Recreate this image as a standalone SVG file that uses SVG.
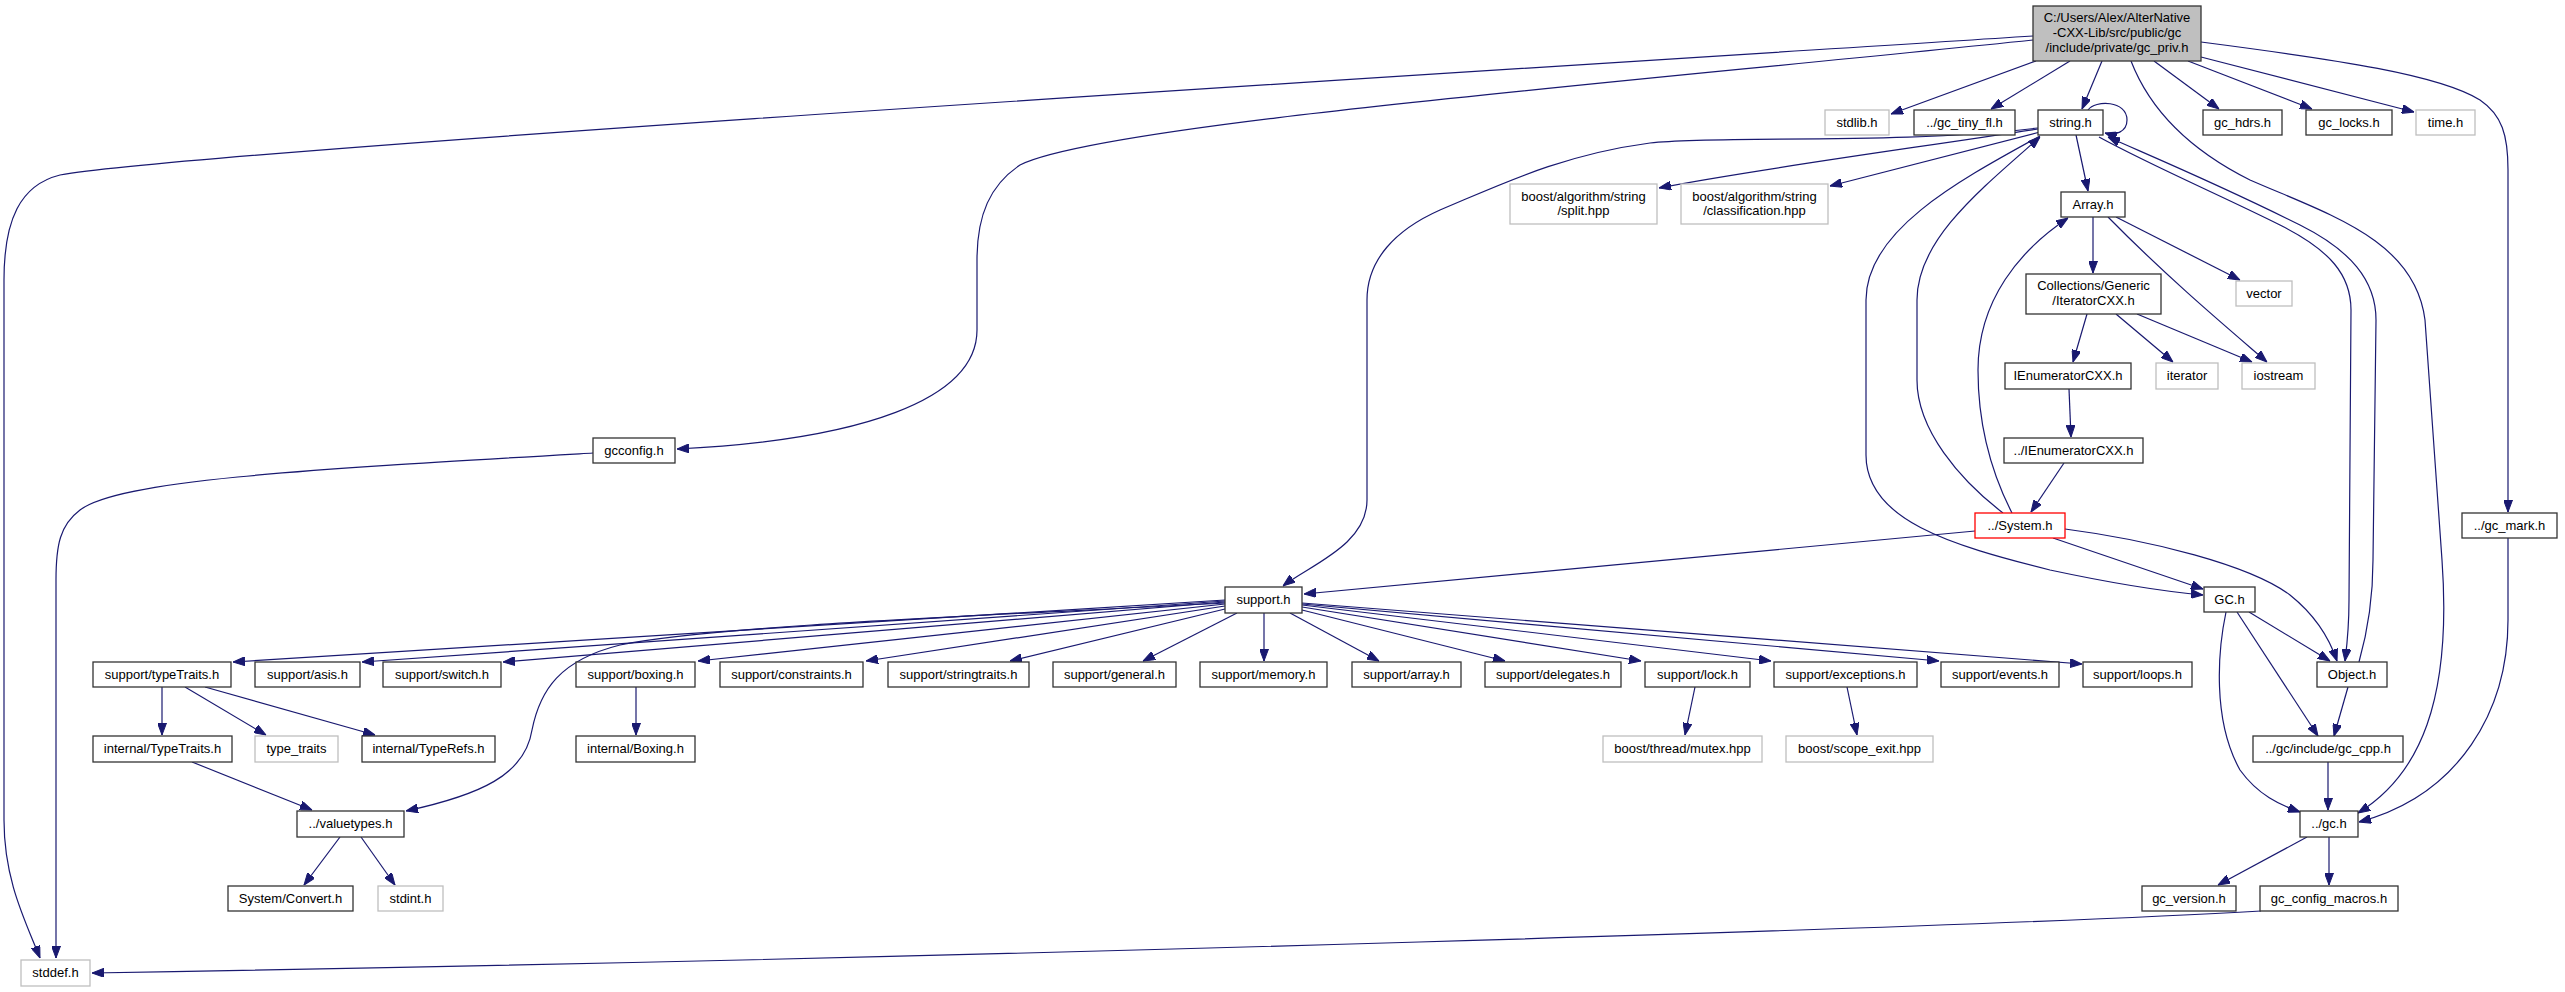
<svg xmlns="http://www.w3.org/2000/svg" width="2565" height="992" viewBox="0 0 2565 992">
<style>
.n rect{fill:#fff;stroke:#333;stroke-width:1.3}
.g rect{fill:#fff;stroke:#bfbfbf;stroke-width:1.3}
.r rect{fill:#fff;stroke:#f00;stroke-width:1.3}
.root rect{fill:#bfbfbf;stroke:#333;stroke-width:1.3}
text{font-family:"Liberation Sans",Arial,sans-serif;font-size:13px;text-anchor:middle;fill:#000}
#edges path{fill:none;stroke:#191970;stroke-width:1.2;marker-end:url(#a)}
</style>
<defs>
<marker id="a" markerWidth="12" markerHeight="9" refX="12" refY="4.5" orient="auto" markerUnits="userSpaceOnUse"><path d="M0,0 L12,4.5 L0,9 z" fill="#191970" stroke="#191970" stroke-width="1"/></marker>
</defs>
<rect width="2565" height="992" fill="#fff"/>
<g id="edges">
<path d="M2033,36 C1500,70 200,150 60,175 C20,185 4,220 4,280 L4,820 C4,880 25,920 40,958"/>
<path d="M2033,40 C1600,85 1100,125 1020,165 C990,185 977,215 977,260 L977,330 C977,400 860,440 677,449"/>
<path d="M2036,61 L1891,114"/>
<path d="M2070,61 L1991,109"/>
<path d="M2102,61 L2082,109"/>
<path d="M2154,61 L2219,109"/>
<path d="M2188,61 L2312,109"/>
<path d="M2201,57 L2414,112"/>
<path d="M2201,42 C2340,60 2440,75 2480,100 C2502,115 2508,135 2508,170 L2508,512"/>
<path d="M2131,61 C2150,110 2190,150 2250,180 C2330,215 2415,240 2425,320 L2442,560 C2452,700 2420,775 2358,813"/>
<path d="M2508,538 L2508,620 C2508,710 2460,795 2359,822"/>
<path d="M2088,110 C2095,100 2127,100 2127,120 C2127,132 2115,136 2105,133"/>
<path d="M2038,128 C1900,145 1720,135 1650,143 C1560,155 1500,185 1440,210 C1395,230 1367,260 1367,300 L1367,500 C1367,545 1310,565 1283,586"/>
<path d="M2038,129 C1900,150 1750,170 1659,188"/>
<path d="M2040,132 L1830,186"/>
<path d="M2076,135 L2088,191"/>
<path d="M2040,136 C1960,180 1866,230 1866,300 L1866,455 C1866,520 1950,545 2050,570 C2120,585 2170,592 2203,595"/>
<path d="M2099,137 C2150,165 2220,195 2280,225 C2330,250 2351,275 2351,310 L2349,600 C2349,630 2347,645 2345,661"/>
<path d="M2003,513 C1960,480 1917,430 1917,380 L1917,300 C1917,240 1980,190 2040,137"/>
<path d="M2359,662 C2368,630 2373,600 2373,560 L2376,320 C2376,280 2350,250 2300,225 C2220,185 2160,160 2108,137"/>
<path d="M2012,513 C1990,470 1978,420 1978,370 C1978,300 2020,250 2068,218"/>
<path d="M2093,217 L2093,273"/>
<path d="M2116,217 L2240,280"/>
<path d="M2108,217 C2170,280 2230,330 2267,362"/>
<path d="M2087,314 L2073,362"/>
<path d="M2116,314 L2173,362"/>
<path d="M2137,314 L2252,362"/>
<path d="M2069,389 L2071,437"/>
<path d="M2064,463 L2031,512"/>
<path d="M1975,531 L1304,594"/>
<path d="M2053,538 L2203,589"/>
<path d="M2065,529 C2150,540 2250,565 2290,595 C2315,615 2330,640 2337,661"/>
<path d="M2249,612 L2330,661"/>
<path d="M2237,612 L2318,736"/>
<path d="M2226,612 C2218,650 2212,720 2240,770 C2258,795 2280,805 2300,812"/>
<path d="M2348,687 L2334,736"/>
<path d="M2328,762 L2328,810"/>
<path d="M2307,837 L2218,885"/>
<path d="M2329,837 L2329,885"/>
<path d="M2261,911 C2000,926 1000,958 92,973"/>
<path d="M593,453 C300,470 120,480 80,510 C60,525 56,545 56,580 L56,958"/>
<path d="M1225,600 L233,662"/>
<path d="M1225,601 L362,662"/>
<path d="M1225,602 L503,662"/>
<path d="M1225,604 L698,661"/>
<path d="M1225,606 L866,661"/>
<path d="M1225,609 L1010,661"/>
<path d="M1237,613 L1143,661"/>
<path d="M1264,613 L1264,661"/>
<path d="M1290,613 L1379,661"/>
<path d="M1302,610 L1505,661"/>
<path d="M1302,607 L1641,661"/>
<path d="M1302,605 L1771,661"/>
<path d="M1302,604 L1939,661"/>
<path d="M1302,603 L2082,664"/>
<path d="M1225,603 C1000,615 720,625 620,645 C560,660 540,690 532,730 C525,775 480,795 406,811"/>
<path d="M162,687 L162,735"/>
<path d="M185,687 L266,735"/>
<path d="M205,687 L375,735"/>
<path d="M192,762 L312,810"/>
<path d="M636,687 L636,735"/>
<path d="M340,837 L304,885"/>
<path d="M361,837 L395,885"/>
<path d="M1695,687 L1685,735"/>
<path d="M1847,687 L1857,735"/>
</g>
<g id="gc_priv" class="root"><rect x="2033" y="6" width="168" height="55"/><text x="2117" y="22">C:/Users/Alex/AlterNative</text><text x="2117" y="37">-CXX-Lib/src/public/gc</text><text x="2117" y="52">/include/private/gc_priv.h</text></g>
<g id="stdlib" class="g"><rect x="1825" y="110" width="64" height="25"/><text x="1857" y="127">stdlib.h</text></g>
<g id="gc_tiny_fl" class="n"><rect x="1914" y="110" width="101" height="25"/><text x="1964.5" y="127">../gc_tiny_fl.h</text></g>
<g id="string" class="n"><rect x="2038" y="110" width="65" height="25"/><text x="2070.5" y="127">string.h</text></g>
<g id="gc_hdrs" class="n"><rect x="2203" y="110" width="79" height="25"/><text x="2242.5" y="127">gc_hdrs.h</text></g>
<g id="gc_locks" class="n"><rect x="2306" y="110" width="86" height="25"/><text x="2349" y="127">gc_locks.h</text></g>
<g id="time" class="g"><rect x="2416" y="110" width="59" height="25"/><text x="2445.5" y="127">time.h</text></g>
<g id="boost_split" class="g"><rect x="1510" y="184" width="147" height="40"/><text x="1583.5" y="201">boost/algorithm/string</text><text x="1583.5" y="215">/split.hpp</text></g>
<g id="boost_class" class="g"><rect x="1681" y="184" width="147" height="40"/><text x="1754.5" y="201">boost/algorithm/string</text><text x="1754.5" y="215">/classification.hpp</text></g>
<g id="array" class="n"><rect x="2061" y="192" width="64" height="25"/><text x="2093" y="209">Array.h</text></g>
<g id="collections" class="n"><rect x="2026" y="274" width="135" height="40"/><text x="2093.5" y="290">Collections/Generic</text><text x="2093.5" y="305">/IteratorCXX.h</text></g>
<g id="vector" class="g"><rect x="2236" y="281" width="56" height="25"/><text x="2264" y="298">vector</text></g>
<g id="ienum" class="n"><rect x="2005" y="363" width="126" height="26"/><text x="2068" y="380">IEnumeratorCXX.h</text></g>
<g id="iterator" class="g"><rect x="2156" y="363" width="62" height="26"/><text x="2187" y="380">iterator</text></g>
<g id="iostream" class="g"><rect x="2242" y="363" width="73" height="26"/><text x="2278.5" y="380">iostream</text></g>
<g id="gcconfig" class="n"><rect x="593" y="438" width="82" height="25"/><text x="634" y="455">gcconfig.h</text></g>
<g id="ienum2" class="n"><rect x="2004" y="438" width="139" height="25"/><text x="2073.5" y="455">../IEnumeratorCXX.h</text></g>
<g id="system" class="r"><rect x="1975" y="513" width="90" height="25"/><text x="2020" y="530">../System.h</text></g>
<g id="gc_mark" class="n"><rect x="2462" y="513" width="95" height="25"/><text x="2509.5" y="530">../gc_mark.h</text></g>
<g id="support" class="n"><rect x="1225" y="587" width="77" height="26"/><text x="1263.5" y="604">support.h</text></g>
<g id="GC" class="n"><rect x="2204" y="587" width="51" height="25"/><text x="2229.5" y="604">GC.h</text></g>
<g id="typeTraits" class="n"><rect x="93" y="662" width="138" height="25"/><text x="162" y="679">support/typeTraits.h</text></g>
<g id="asis" class="n"><rect x="255" y="662" width="105" height="25"/><text x="307.5" y="679">support/asis.h</text></g>
<g id="switch" class="n"><rect x="383" y="662" width="118" height="25"/><text x="442" y="679">support/switch.h</text></g>
<g id="boxing" class="n"><rect x="576" y="662" width="119" height="25"/><text x="635.5" y="679">support/boxing.h</text></g>
<g id="constraints" class="n"><rect x="720" y="662" width="143" height="25"/><text x="791.5" y="679">support/constraints.h</text></g>
<g id="stringtraits" class="n"><rect x="888" y="662" width="141" height="25"/><text x="958.5" y="679">support/stringtraits.h</text></g>
<g id="general" class="n"><rect x="1053" y="662" width="123" height="25"/><text x="1114.5" y="679">support/general.h</text></g>
<g id="memory" class="n"><rect x="1200" y="662" width="127" height="25"/><text x="1263.5" y="679">support/memory.h</text></g>
<g id="sarray" class="n"><rect x="1352" y="662" width="109" height="25"/><text x="1406.5" y="679">support/array.h</text></g>
<g id="delegates" class="n"><rect x="1485" y="662" width="136" height="25"/><text x="1553" y="679">support/delegates.h</text></g>
<g id="lock" class="n"><rect x="1645" y="662" width="105" height="25"/><text x="1697.5" y="679">support/lock.h</text></g>
<g id="exceptions" class="n"><rect x="1774" y="662" width="143" height="25"/><text x="1845.5" y="679">support/exceptions.h</text></g>
<g id="events" class="n"><rect x="1941" y="662" width="118" height="25"/><text x="2000" y="679">support/events.h</text></g>
<g id="loops" class="n"><rect x="2083" y="662" width="109" height="25"/><text x="2137.5" y="679">support/loops.h</text></g>
<g id="object" class="n"><rect x="2317" y="662" width="70" height="25"/><text x="2352" y="679">Object.h</text></g>
<g id="iTypeTraits" class="n"><rect x="93" y="736" width="139" height="26"/><text x="162.5" y="753">internal/TypeTraits.h</text></g>
<g id="type_traits" class="g"><rect x="255" y="736" width="83" height="26"/><text x="296.5" y="753">type_traits</text></g>
<g id="typeRefs" class="n"><rect x="362" y="736" width="133" height="26"/><text x="428.5" y="753">internal/TypeRefs.h</text></g>
<g id="iBoxing" class="n"><rect x="576" y="736" width="119" height="26"/><text x="635.5" y="753">internal/Boxing.h</text></g>
<g id="mutex" class="g"><rect x="1603" y="736" width="159" height="26"/><text x="1682.5" y="753">boost/thread/mutex.hpp</text></g>
<g id="scope_exit" class="g"><rect x="1786" y="736" width="147" height="26"/><text x="1859.5" y="753">boost/scope_exit.hpp</text></g>
<g id="gc_cpp" class="n"><rect x="2253" y="736" width="150" height="26"/><text x="2328" y="753">../gc/include/gc_cpp.h</text></g>
<g id="valuetypes" class="n"><rect x="297" y="811" width="107" height="26"/><text x="350.5" y="828">../valuetypes.h</text></g>
<g id="gc" class="n"><rect x="2300" y="811" width="58" height="26"/><text x="2329" y="828">../gc.h</text></g>
<g id="convert" class="n"><rect x="228" y="886" width="125" height="25"/><text x="290.5" y="903">System/Convert.h</text></g>
<g id="stdint" class="g"><rect x="378" y="886" width="65" height="25"/><text x="410.5" y="903">stdint.h</text></g>
<g id="gc_version" class="n"><rect x="2142" y="886" width="94" height="25"/><text x="2189" y="903">gc_version.h</text></g>
<g id="gc_config_macros" class="n"><rect x="2260" y="886" width="138" height="25"/><text x="2329" y="903">gc_config_macros.h</text></g>
<g id="stddef" class="g"><rect x="21" y="960" width="69" height="26"/><text x="55.5" y="977">stddef.h</text></g>
</svg>
